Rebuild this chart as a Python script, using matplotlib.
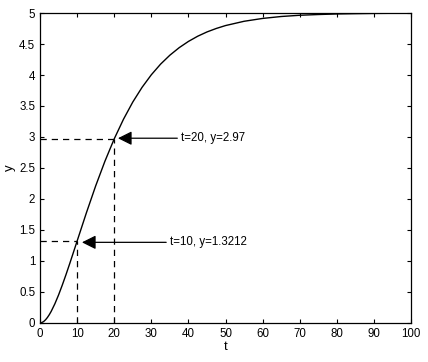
import matplotlib
matplotlib.use("Agg")
import matplotlib.pyplot as plt

# values
t = [0, 0.5, 1, 1.5, 2, 2.5, 3, 4, 5, 6, 7, 8, 9, 10, 12.5, 15, 17.5, 20, 22.5,
     25, 27.5, 30, 32.5, 35, 37.5, 40, 42.5, 45, 47.5, 50, 55, 60, 65, 70, 75,
     80, 85, 90, 95, 100]
y = [0, 0.006, 0.023, 0.051, 0.088, 0.133, 0.185, 0.308, 0.451, 0.610, 0.779,
     0.956, 1.138, 1.321, 1.777, 2.211, 2.610, 2.970, 3.287, 3.564, 3.801,
     4.004, 4.176, 4.320, 4.441, 4.542, 4.626, 4.695, 4.751, 4.798, 4.867,
     4.913, 4.944, 4.964, 4.976, 4.985, 4.990, 4.994, 4.996, 4.998]

marked_t = [10, 20]
marked_y = [1.3212, 2.97]
labels = ["t=10, y=1.3212", "t=20, y=2.97"]
arrow_tip = [(11.3, 1.30), (21.0, 2.98)]
arrow_tail = [(34.0, 1.30), (37.0, 2.98)]

xticks = list(range(0, 101, 10))
yticks = [0, 0.5, 1, 1.5, 2, 2.5, 3, 3.5, 4, 4.5, 5]
ytick_labels = ["0", "0.5", "1", "1.5", "2", "2.5", "3", "3.5", "4", "4.5", "5"]

plt.rcParams['font.family'] = ['Liberation Sans', 'DejaVu Sans']
fig = plt.figure(figsize=(4.28, 3.62), dpi=100)
ax = fig.add_axes([0.0935, 0.108, 0.867, 0.856])

ax.plot(t, y, color='black', lw=1.0)
for mt, my in zip(marked_t, marked_y):
    ax.plot([0, mt], [my, my], color='black', lw=0.9, ls=(0, (5, 4)))
    ax.plot([mt, mt], [0, my], color='black', lw=0.9, ls=(0, (5, 4)))

for lab, tip, tail in zip(labels, arrow_tip, arrow_tail):
    ax.annotate("", xy=tip, xytext=tail,
                arrowprops=dict(arrowstyle='-|>,head_length=0.6,head_width=0.3',
                                color='black', lw=0.9,
                                mutation_scale=14, shrinkA=0, shrinkB=0))
    ax.text(tail[0] + 1.0, tail[1], lab, fontsize=8.3, va='center', ha='left')

ax.set_xlim(0, 100)
ax.set_ylim(0, 5)
ax.set_xticks(xticks)
ax.set_yticks(yticks)
ax.set_yticklabels(ytick_labels)
ax.tick_params(direction='in', top=True, right=True, labelsize=8.3, length=3, width=0.8)
ax.set_xlabel("t", fontsize=9.5, labelpad=1)
ax.set_ylabel("y", fontsize=9.5, labelpad=2)
for s in ax.spines.values():
    s.set_linewidth(0.9)

fig.savefig("out.png", dpi=100)
